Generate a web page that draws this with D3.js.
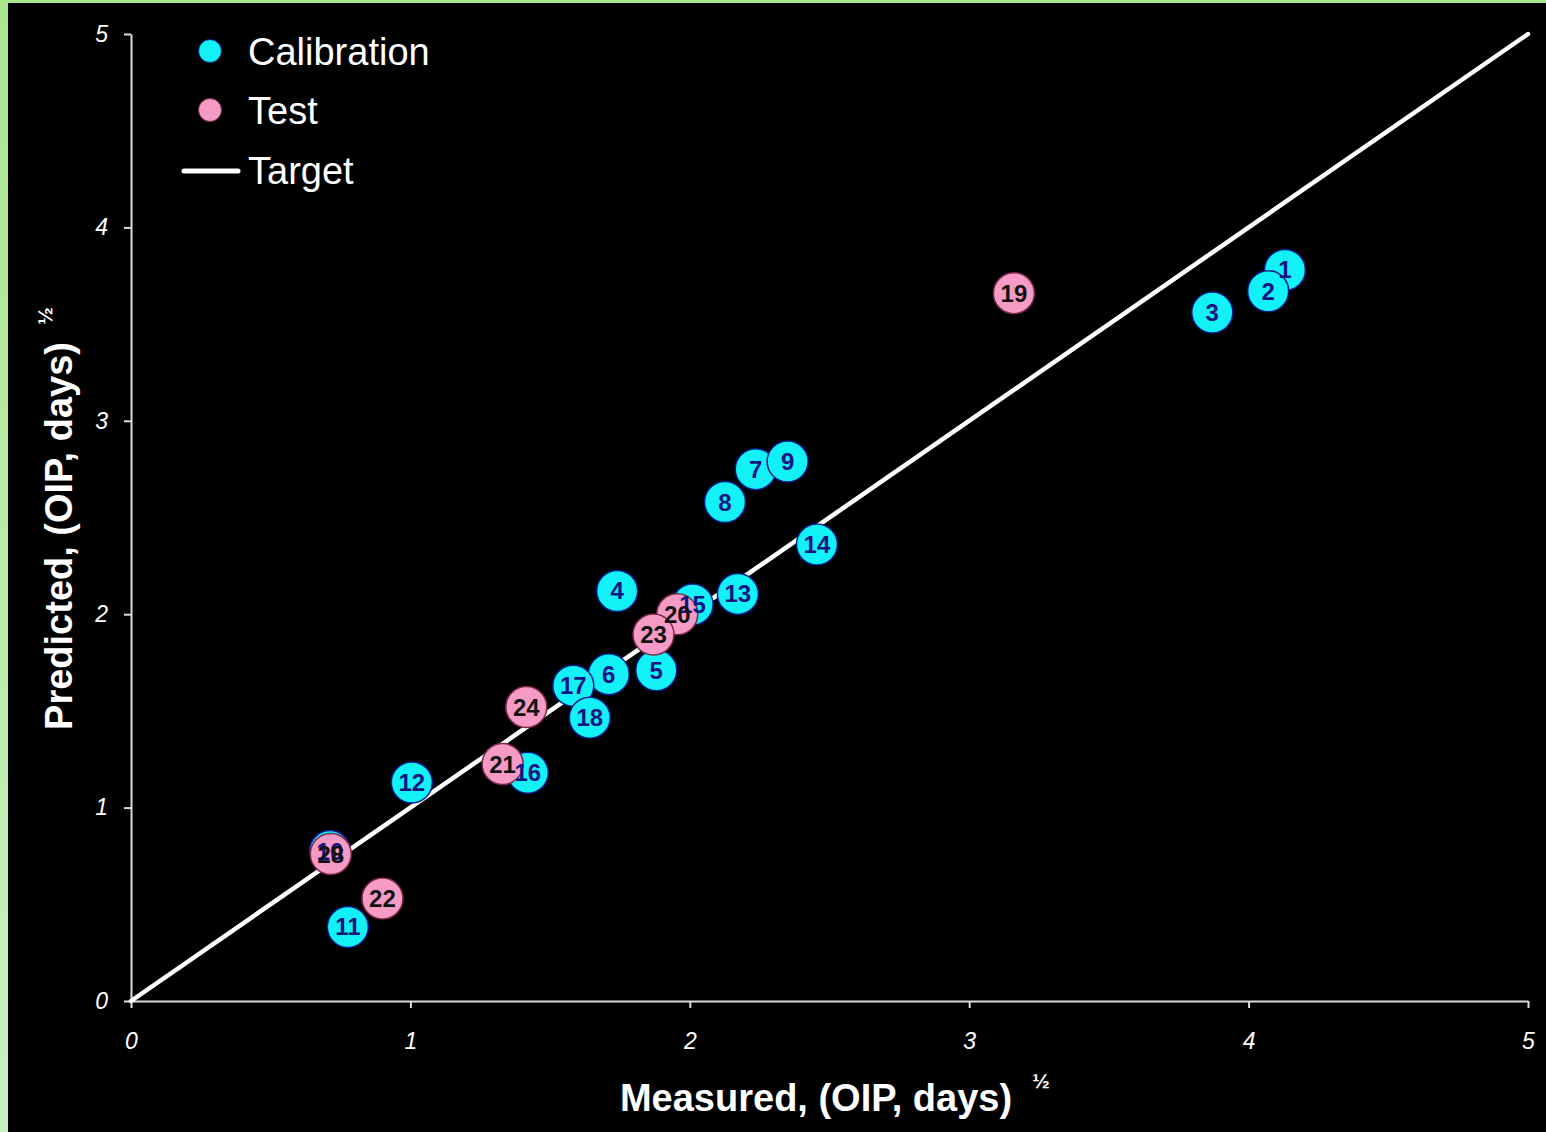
<!DOCTYPE html>
<html>
<head>
<meta charset="utf-8">
<script src="https://cdn.jsdelivr.net/npm/d3@7"></script>
<style>
  html, body { margin: 0; padding: 0; background: #b2e99c; }
  svg { display: block; font-family: "Liberation Sans", Arial, sans-serif; }
</style>
</head>
<body>
<svg id="chart" width="1546" height="1132"></svg>
<script>
// Calibration set: sample number, measured and predicted sqrt(OIP, days)
const calIds       = [1, 2, 3, 4, 5, 6, 7, 8, 9, 10, 11, 12, 13, 14, 15, 16, 17, 18];
const calMeasured  = [4.13, 4.07, 3.87, 1.74, 1.88, 1.71, 2.236, 2.126, 2.35, 0.712, 0.776, 1.005, 2.172, 2.455, 2.01, 1.42, 1.583, 1.642];
const calPredicted = [3.78, 3.67, 3.56, 2.12, 1.71, 1.69, 2.75, 2.58, 2.79, 0.775, 0.383, 1.13, 2.105, 2.36, 2.05, 1.18, 1.63, 1.465];

// Test set
const testIds       = [19, 20, 21, 22, 23, 24, 28];
const testMeasured  = [3.16, 1.955, 1.33, 0.9, 1.87, 1.415, 0.715];
const testPredicted = [3.66, 2.0, 1.225, 0.53, 1.895, 1.52, 0.76];

// Axis ticks and the 1:1 target line
const xTicks = [0, 1, 2, 3, 4, 5];
const yTicks = [0, 1, 2, 3, 4, 5];
const targetLine = [[0, 0], [5, 5]];

const legendItems = ["Calibration", "Test", "Target"];

const svg = d3.select("#chart");

// green frame with a black plotting panel
const defs = svg.append("defs");
const grad = defs.append("linearGradient").attr("id", "frameGrad")
  .attr("x1", 0).attr("y1", 0).attr("x2", 0).attr("y2", 1);
grad.append("stop").attr("offset", "0%").attr("stop-color", "#a9e78e");
grad.append("stop").attr("offset", "100%").attr("stop-color", "#c9f0c2");
svg.append("rect").attr("width", 1546).attr("height", 1132).attr("fill", "url(#frameGrad)");
svg.append("rect").attr("x", 8).attr("y", 3).attr("width", 1538).attr("height", 1129).attr("fill", "#000");

const x = d3.scaleLinear().domain([0, 5]).range([131, 1528]);
const y = d3.scaleLinear().domain([0, 5]).range([1001, 34]);

const axisColor = "#dcdcdc";

// x axis
const gx = svg.append("g").attr("transform", `translate(0,${y(0)})`)
  .call(d3.axisBottom(x).tickValues(xTicks).tickSize(7).tickSizeOuter(0).tickPadding(25).tickFormat(d3.format("d")));
// y axis
const gy = svg.append("g").attr("transform", `translate(${x(0)},0)`)
  .call(d3.axisLeft(y).tickValues(yTicks).tickSize(7).tickSizeOuter(0).tickPadding(16).tickFormat(d3.format("d")));

[gx, gy].forEach(g => {
  g.select(".domain").attr("stroke", axisColor).attr("stroke-width", 2);
  g.selectAll(".tick line").attr("stroke", axisColor).attr("stroke-width", 2);
  g.selectAll(".tick text").attr("fill", "#fff").attr("font-size", 23)
    .attr("font-style", "italic").attr("font-family", "'Liberation Sans', Arial, sans-serif");
});
gx.selectAll(".tick text").attr("dy", "0.71em");

// target line
svg.append("line")
  .attr("x1", x(targetLine[0][0])).attr("y1", y(targetLine[0][1]))
  .attr("x2", x(targetLine[1][0])).attr("y2", y(targetLine[1][1]))
  .attr("stroke", "#fff").attr("stroke-width", 4.5).attr("stroke-linecap", "round");

const calData = calIds.map((id, i) => ({ id, m: calMeasured[i], p: calPredicted[i] }));
const testData = testIds.map((id, i) => ({ id, m: testMeasured[i], p: testPredicted[i] }));

const R = 20.5;
const calFill = "#12f1f6", calStroke = "#0a1a8c", calText = "#141483";
const testFill = "#f59bc6", testStroke = "#7a2848", testText = "#111";

// markers
svg.append("g").selectAll("circle").data(calData).join("circle")
  .attr("cx", d => x(d.m)).attr("cy", d => y(d.p)).attr("r", R)
  .attr("fill", calFill).attr("stroke", calStroke).attr("stroke-width", 1.5);
svg.append("g").selectAll("circle").data(testData).join("circle")
  .attr("cx", d => x(d.m)).attr("cy", d => y(d.p)).attr("r", R)
  .attr("fill", testFill).attr("stroke", testStroke).attr("stroke-width", 1.5);

// data labels, drawn above every marker
const labelFont = { size: 24, weight: "bold" };
svg.append("g").selectAll("text").data(calData).join("text")
  .attr("x", d => x(d.m)).attr("y", d => y(d.p) + 8.5)
  .attr("text-anchor", "middle").attr("font-size", labelFont.size).attr("font-weight", labelFont.weight)
  .attr("fill", calText).text(d => d.id);
svg.append("g").selectAll("text").data(testData).join("text")
  .attr("x", d => x(d.m)).attr("y", d => y(d.p) + 8.5)
  .attr("text-anchor", "middle").attr("font-size", labelFont.size).attr("font-weight", labelFont.weight)
  .attr("fill", testText).text(d => d.id);

// legend
const lg = svg.append("g");
lg.append("circle").attr("cx", 210).attr("cy", 51).attr("r", 11.5).attr("fill", calFill).attr("stroke", calStroke).attr("stroke-width", 1);
lg.append("circle").attr("cx", 210).attr("cy", 110).attr("r", 11.5).attr("fill", testFill).attr("stroke", testStroke).attr("stroke-width", 1);
lg.append("line").attr("x1", 184).attr("x2", 238).attr("y1", 171).attr("y2", 171)
  .attr("stroke", "#fff").attr("stroke-width", 5).attr("stroke-linecap", "round");
lg.selectAll("text").data(legendItems).join("text")
  .attr("x", 248).attr("y", (d, i) => [65, 124, 184][i])
  .attr("fill", "#fff").attr("font-size", 38).text(d => d);

// axis titles
svg.append("text").attr("x", 816).attr("y", 1111).attr("text-anchor", "middle")
  .attr("fill", "#fff").attr("font-size", 38).attr("font-weight", "bold")
  .text("Measured, (OIP, days)");
svg.append("text").attr("x", 1041).attr("y", 1088).attr("text-anchor", "middle")
  .attr("fill", "#fff").attr("font-size", 21).attr("font-weight", "bold").text("½");

svg.append("text").attr("transform", "translate(72,536) rotate(-90)").attr("text-anchor", "middle")
  .attr("fill", "#fff").attr("font-size", 38).attr("font-weight", "bold")
  .text("Predicted, (OIP, days)");
svg.append("text").attr("transform", "translate(52,316) rotate(-90)").attr("text-anchor", "middle")
  .attr("fill", "#fff").attr("font-size", 21).attr("font-weight", "bold").text("½");
</script>
</body>
</html>
